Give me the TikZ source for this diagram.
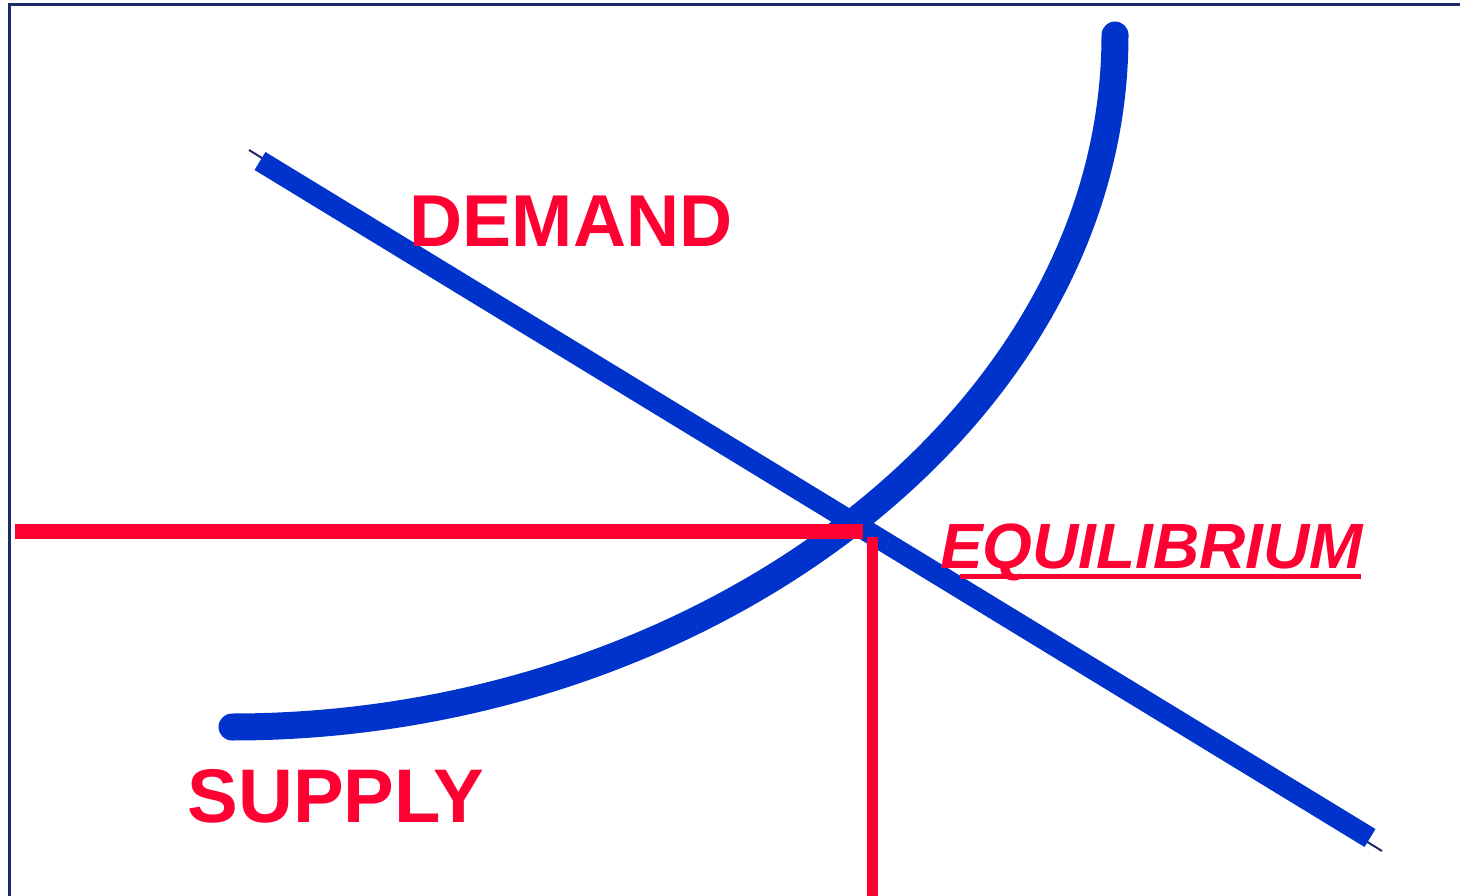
\documentclass[tikz,border=0pt]{standalone}
\usepackage{fontspec}
\setmainfont{Liberation Sans}
\definecolor{curveblue}{HTML}{0033CC}
\definecolor{labelred}{HTML}{FF0033}
\definecolor{framenavy}{HTML}{1A2A6A}
\begin{document}
\begin{tikzpicture}[x=1pt,y=-1pt,
  frame/.style={draw=framenavy,line width=3pt},
  tick/.style={draw=framenavy,line width=2pt},
  demandline/.style={draw=curveblue,line width=21pt,line cap=butt},
  supplyline/.style={draw=curveblue,line width=27pt,line cap=round},
  guide/.style={draw=labelred,line cap=butt},
  lbl/.style={text=labelred,font=\bfseries,inner sep=0pt,anchor=base}]
\useasboundingbox (0,0) rectangle (1460,896);
\draw[frame] (9,5) rectangle (1475,910);
% demand
\coordinate (dA) at (249,150);
\coordinate (dB) at (1382,851);
\coordinate (d1) at (260,161);
\coordinate (d2) at (1370,838);
\draw[tick] (dA) -- (dB);
\draw[demandline] (d1) -- (d2);
% supply
\coordinate (s1) at (232,727);
\coordinate (s2) at (1115,35);
\draw[supplyline] (s1) .. controls (700,727) and (1115,420) .. (s2);
% equilibrium guides
\coordinate (h1) at (15,531);
\coordinate (h2) at (863,531);
\coordinate (v1) at (872,537);
\coordinate (v2) at (872,896);
\draw[guide,line width=15pt] (h1) -- (h2);
\draw[guide,line width=11pt] (v1) -- (v2);
% labels
\node[lbl,font=\fontsize{73.5}{73.5}\selectfont\bfseries] (demand) at (571,247) {DEMAND};
\node[lbl,font=\fontsize{76}{76}\selectfont\bfseries] (supply) at (336,822) {SUPPLY};
\node[lbl,anchor=base west,font=\fontsize{64}{64}\selectfont\bfseries\itshape] (equil) at (940,568) {EQUILIBRIUM};
\coordinate (u1) at (960,576);
\coordinate (u2) at (1361,576);
\draw[guide,line width=5pt] (u1) -- (u2);
\end{tikzpicture}
\end{document}
